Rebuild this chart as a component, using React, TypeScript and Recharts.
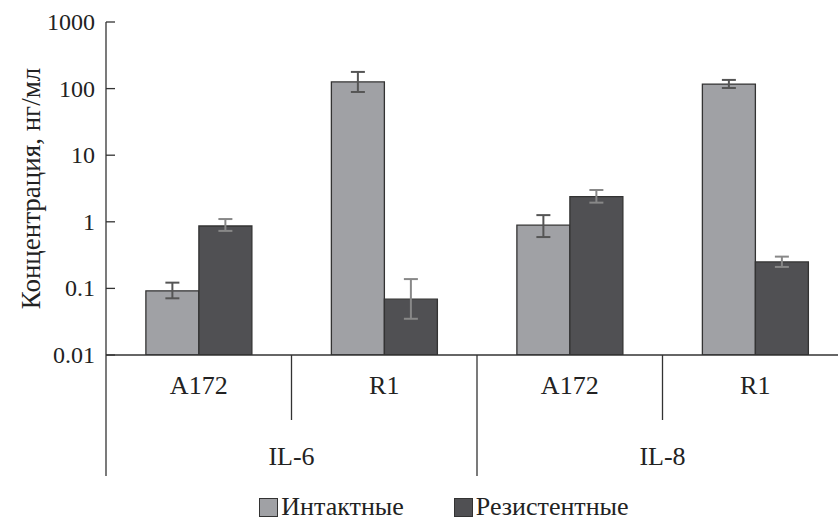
import React from 'react';
import { BarChart, Bar, XAxis, YAxis, ErrorBar, Legend, Label } from 'recharts';

const cells = ['A172', 'R1', 'A172', 'R1'];
const groups = ['IL-6', 'IL-6', 'IL-8', 'IL-8'];
const intact = [0.092, 126, 0.89, 117];
const intactLo = [0.071, 89, 0.59, 102];
const intactHi = [0.122, 178, 1.26, 135];
const resist = [0.865, 0.069, 2.38, 0.25];
const resistLo = [0.73, 0.035, 1.94, 0.21];
const resistHi = [1.1, 0.138, 3.0, 0.3];
const yTicks = [0.01, 0.1, 1, 10, 100, 1000];
const seriesNames = ['Интактные', 'Резистентные'];

const data = cells.map((c, i) => ({
  cell: c,
  group: groups[i],
  intact: intact[i],
  intactErr: [intact[i] - intactLo[i], intactHi[i] - intact[i]],
  resist: resist[i],
  resistErr: [resist[i] - resistLo[i], resistHi[i] - resist[i]],
}));

const SERIF = '"Times New Roman", Tinos, "Liberation Serif", Times, serif';
const LIGHT = '#a0a1a5';
const DARK = '#505053';
const LINE = '#333';

const YTick = (props: any) => {
  const { x, y, payload } = props;
  const ax = x + 11;
  return (
    <g>
      <line x1={ax} x2={ax + 9} y1={y} y2={y} stroke={LINE} strokeWidth={1.3} />
      <text x={x} y={y + 8} textAnchor="end" fontFamily={SERIF} fontSize={24} fill="#222" style={{ fontFamily: SERIF }}>
        {String(payload.value)}
      </text>
    </g>
  );
};

const XTick = (props: any) => {
  const { x, y, payload, index, width, visibleTicksCount } = props;
  const half = payload && payload.offset > 5 ? payload.offset : width / visibleTicksCount / 2;
  const i = index;
  const n = visibleTicksCount;
  return (
    <g>
      <text x={x} y={y + 39} textAnchor="middle" fontFamily={SERIF} fontSize={26} fill="#222" style={{ fontFamily: SERIF }}>
        {payload.value}
      </text>
      {i === 0 && (
        <line x1={x - half} x2={x - half} y1={y} y2={y + 121} stroke={LINE} strokeWidth={1.3} />
      )}
      {i < n - 1 && (
        <line
          x1={x + half}
          x2={x + half}
          y1={y}
          y2={groups[i] !== groups[i + 1] ? y + 121 : y + 65}
          stroke={LINE}
          strokeWidth={1.3}
        />
      )}
      {i < n - 1 && groups[i] === groups[i + 1] && (i === 0 || groups[i - 1] !== groups[i]) && (
        <text x={x + half} y={y + 110} textAnchor="middle" fontFamily={SERIF} fontSize={26} fill="#222" style={{ fontFamily: SERIF }}>
          {groups[i]}
        </text>
      )}
    </g>
  );
};

const LegendContent = () => {
  const items = [
    { name: seriesNames[0], color: LIGHT },
    { name: seriesNames[1], color: DARK },
  ];
  return (
    <div style={{ display: 'flex', justifyContent: 'center', gap: 50, fontFamily: SERIF, fontSize: 26, color: '#222', paddingLeft: 50 }}>
      {items.map((it) => (
        <div key={it.name} style={{ display: 'flex', alignItems: 'center' }}>
          <span
            style={{
              display: 'inline-block',
              width: 19,
              height: 19,
              background: it.color,
              border: `1.5px solid ${LINE}`,
              marginRight: 3,
              boxSizing: 'border-box',
            }}
          />
          <span style={{ fontFamily: SERIF }}>{it.name}</span>
        </div>
      ))}
    </div>
  );
};

export default function App() {
  return (
    <div style={{ position: 'absolute', left: 0, top: 0, width: 838, height: 525, overflow: 'hidden', background: '#fff', fontFamily: SERIF }}>
      <BarChart
        width={850}
        height={525}
        data={data}
        margin={{ top: 22, right: 2, bottom: 0, left: 0 }}
        barGap={0}
        barCategoryGap="21.5%"
      >
        <XAxis
          dataKey="cell"
          height={170}
          tickLine={false}
          tickSize={0}
          tickMargin={0}
          interval={0}
          axisLine={{ stroke: LINE, strokeWidth: 1.3 }}
          tick={<XTick />}
        />
        <YAxis
          scale="log"
          type="number"
          domain={[0.01, 1000]}
          ticks={yTicks}
          allowDataOverflow
          width={106}
          tickLine={false}
          tickSize={0}
          tickMargin={11}
          interval={0}
          axisLine={{ stroke: LINE, strokeWidth: 1.3 }}
          tick={<YTick />}
        >
          <Label
            value="Концентрация, нг/мл"
            angle={-90}
            position="center"
            dx={-23}
            fontFamily={SERIF}
            fontSize={27}
            fill="#222"
            style={{ fontFamily: SERIF }}
          />
        </YAxis>
        <Legend
          layout="horizontal"
          verticalAlign="middle"
          align="center"
          content={<LegendContent />}
          wrapperStyle={{ top: 492, left: 0, width: 838 }}
        />
        <Bar dataKey="intact" name={seriesNames[0]} fill={LIGHT} stroke={LINE} strokeWidth={1.3} isAnimationActive={false}>
          <ErrorBar dataKey="intactErr" width={7} stroke="#555" strokeWidth={2} isAnimationActive={false} />
        </Bar>
        <Bar dataKey="resist" name={seriesNames[1]} fill={DARK} stroke={LINE} strokeWidth={1.3} isAnimationActive={false}>
          <ErrorBar dataKey="resistErr" width={7} stroke="#888" strokeWidth={2} isAnimationActive={false} />
        </Bar>
      </BarChart>
    </div>
  );
}
